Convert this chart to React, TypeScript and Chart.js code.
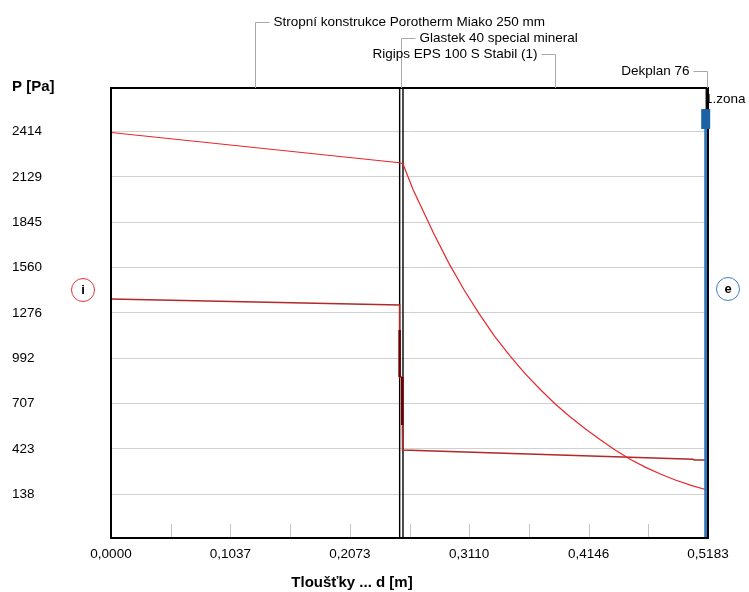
import React, { useEffect, useRef } from 'react';
import { Chart, registerables } from 'chart.js';
Chart.register(...registerables);

const FONT = 'Liberation Sans, Arial, sans-serif';

// Layer boundaries [m] and names
const layerBounds = [0, 0.2506, 0.2535, 0.5168, 0.5183];
const layerNames = [
  'Stropní konstrukce Porotherm Miako 250 mm',
  'Glastek 40 special mineral',
  'Rigips EPS 100 S Stabil (1)',
  'Dekplan 76',
];
const layerLabelSide = ['right', 'right', 'left', 'left'];

// Axis ticks
const xTickValues = [0, 0.10366, 0.20732, 0.31098, 0.41464, 0.5183];
const xTickLabels = ['0,0000', '0,1037', '0,2073', '0,3110', '0,4146', '0,5183'];
const xMinorTicks = [0.05183, 0.10366, 0.15549, 0.20732, 0.25915, 0.31098, 0.36281, 0.41464, 0.46647];
const yTickValues = [138, 423, 707, 992, 1276, 1560, 1845, 2129, 2414];
const yTickLabels = ['138', '423', '707', '992', '1276', '1560', '1845', '2129', '2414'];

// Saturated vapour pressure p_sat [Pa]
const satX = [0, 0.2506, 0.2535, 0.2622, 0.2671, 0.2803, 0.2934, 0.3066, 0.3197, 0.3328, 0.346, 0.3591, 0.3723,
  0.3854, 0.3985, 0.4117, 0.4248, 0.438, 0.4511, 0.4642, 0.4774, 0.4905, 0.5037, 0.5168, 0.5183];
const satP = [2408, 2218, 2210, 2050, 1975, 1773, 1587, 1420, 1270, 1132, 1010, 898, 799,
  706, 625, 550, 480, 415, 357, 307, 264, 226, 194, 167, 163];

// Partial vapour pressure p [Pa]
const partX = [0, 0.2506, 0.2506, 0.2528, 0.2528, 0.2535, 0.5055, 0.5062, 0.5168, 0.5183];
const partP = [1363, 1326, 874, 874, 416, 416, 358, 353, 353, 190];

// Steep drops through vapour barriers (dark segments)
const dropX = [0.2506, 0.2506, 0.2517, 0.2528, 0.2528, 0.5150, 0.5176, 0.5176];
const dropP = [1169, 874, null, 874, 573, null, 303, 196];

// Condensation zone marker (1.zona)
const zoneX = 0.5163;
const zoneBlockP = [2555, 2430];
const zoneLineP = [2430, -136];

const Y_MIN = -136;
const Y_MAX = 2687;

const decorPlugin = {
  id: 'decor',
  beforeDatasetsDraw(chart: any) {
    const { ctx, chartArea } = chart;
    const xs = chart.scales.x;
    ctx.save();
    ctx.strokeStyle = '#c4c4c4';
    ctx.lineWidth = 1;
    xMinorTicks.forEach((v) => {
      const px = Math.round(xs.getPixelForValue(v)) + 0.5;
      ctx.beginPath();
      ctx.moveTo(px, chartArea.bottom);
      ctx.lineTo(px, chartArea.bottom - 14);
      ctx.stroke();
    });
    ctx.restore();
  },
  afterDatasetsDraw(chart: any) {
    const { ctx, chartArea } = chart;
    ctx.save();
    ctx.strokeStyle = '#000';
    ctx.lineWidth = 2;
    ctx.strokeRect(chartArea.left, chartArea.top, chartArea.right - chartArea.left, chartArea.bottom - chartArea.top);
    // zone block drawn over the frame
    const xs = chart.scales.x;
    const ys = chart.scales.y;
    const zx = xs.getPixelForValue(zoneX);
    const y0 = ys.getPixelForValue(zoneBlockP[0]);
    const y1 = ys.getPixelForValue(zoneBlockP[1]);
    ctx.fillStyle = '#1b62a3';
    ctx.fillRect(zx - 4.5, y0, 9, y1 - y0);
    ctx.restore();
  },
  afterDraw(chart: any) {
    const { ctx, chartArea } = chart;
    const xs = chart.scales.x;
    ctx.save();
    // layer annotations
    ctx.font = `13.5px ${FONT}`;
    ctx.textBaseline = 'middle';
    layerNames.forEach((name, i) => {
      const mid = (layerBounds[i] + layerBounds[i + 1]) / 2;
      const px = Math.round(xs.getPixelForValue(mid)) + 0.5;
      const rowY = Math.round(21.5 + i * 16.4) + 0.5;
      ctx.strokeStyle = '#a8a8a8';
      ctx.lineWidth = 1;
      ctx.beginPath();
      ctx.moveTo(px, chartArea.top);
      ctx.lineTo(px, rowY);
      const dir = layerLabelSide[i] === 'right' ? 1 : -1;
      ctx.lineTo(px + dir * 14, rowY);
      ctx.stroke();
      ctx.fillStyle = '#000';
      ctx.textAlign = dir === 1 ? 'left' : 'right';
      ctx.fillText(name, px + dir * 18, rowY);
    });
    // zone label
    ctx.textAlign = 'left';
    ctx.fillText('1.zona', 705, 99);
    // axis titles
    ctx.font = `bold 15px ${FONT}`;
    ctx.fillText('P [Pa]', 12, 87);
    ctx.textAlign = 'center';
    ctx.fillText('Tloušťky ... d [m]', 352, 583);
    // interior / exterior markers
    const circ = (cx: number, cy: number, color: string, letter: string) => {
      ctx.beginPath();
      ctx.arc(cx, cy, 11.5, 0, Math.PI * 2);
      ctx.strokeStyle = color;
      ctx.lineWidth = 1;
      ctx.stroke();
      ctx.fillStyle = '#000';
      ctx.font = `bold 13px ${FONT}`;
      ctx.textAlign = 'center';
      ctx.textBaseline = 'middle';
      ctx.fillText(letter, cx, cy + 0.5);
    };
    circ(83, 290, '#e03434', 'i');
    circ(728, 289, '#3a80c4', 'e');
    ctx.restore();
  },
};

export default function App() {
  const ref = useRef<HTMLCanvasElement>(null);
  useEffect(() => {
    const pts = (xs: number[], ys: (number | null)[]) => xs.map((x, i) => ({ x, y: ys[i] }));
    const boundaryDatasets = layerBounds.slice(1, 4).map((b) => ({
      data: [{ x: b, y: Y_MIN }, { x: b, y: Y_MAX }],
      borderColor: '#000',
      borderWidth: 1.4,
      pointRadius: 0,
      order: 6,
    }));
    const chart = new Chart(ref.current as HTMLCanvasElement, {
      type: 'line',
      data: {
        datasets: [
          {
            data: zoneLineP.map((y) => ({ x: zoneX, y })),
            borderColor: '#2f78bd',
            borderWidth: 3,
            pointRadius: 0,
            clip: false,
            order: 1,
          },
          {
            data: pts(dropX, dropP),
            borderColor: '#6a0000',
            borderWidth: 2.5,
            pointRadius: 0,
            spanGaps: false,
            order: 2,
          },
          {
            data: pts(satX, satP),
            borderColor: '#e8262b',
            borderWidth: 1.2,
            pointRadius: 0,
            order: 3,
          },
          {
            data: pts(partX, partP),
            borderColor: '#b32828',
            borderWidth: 1.6,
            pointRadius: 0,
            order: 4,
          },
          ...boundaryDatasets,
        ] as any,
      },
      options: {
        responsive: false,
        animation: false,
        events: [],
        layout: { padding: { left: 12, top: 88, right: 41, bottom: 0 } },
        plugins: { legend: { display: false }, tooltip: { enabled: false }, title: { display: false } },
        scales: {
          x: {
            type: 'linear',
            min: 0,
            max: 0.5183,
            grid: { display: false, drawTicks: false },
            border: { display: false },
            afterBuildTicks: (scale: any) => {
              scale.ticks = xTickValues.map((v) => ({ value: v }));
            },
            afterFit: (scale: any) => {
              scale.height = 54;
            },
            ticks: {
              autoSkip: false,
              maxRotation: 0,
              padding: 8,
              color: '#000',
              font: { family: FONT, size: 13.5 },
              callback: (_v: any, i: number) => xTickLabels[i],
            },
          },
          y: {
            type: 'linear',
            min: Y_MIN,
            max: Y_MAX,
            grid: { color: '#d0d0d0', lineWidth: 1, drawTicks: false },
            border: { display: false },
            afterBuildTicks: (scale: any) => {
              scale.ticks = yTickValues.map((v) => ({ value: v }));
            },
            afterFit: (scale: any) => {
              scale.width = 99;
            },
            ticks: {
              autoSkip: false,
              crossAlign: 'far',
              color: '#000',
              font: { family: FONT, size: 13.5 },
              callback: (_v: any, i: number) => yTickLabels[i],
            },
          },
        },
      } as any,
      plugins: [decorPlugin],
    });
    return () => chart.destroy();
  }, []);
  return (
    <div style={{ position: 'absolute', left: 0, top: 0, width: 749, height: 592, background: '#fff' }}>
      <canvas ref={ref} width={749} height={592} style={{ display: 'block' }} />
    </div>
  );
}
